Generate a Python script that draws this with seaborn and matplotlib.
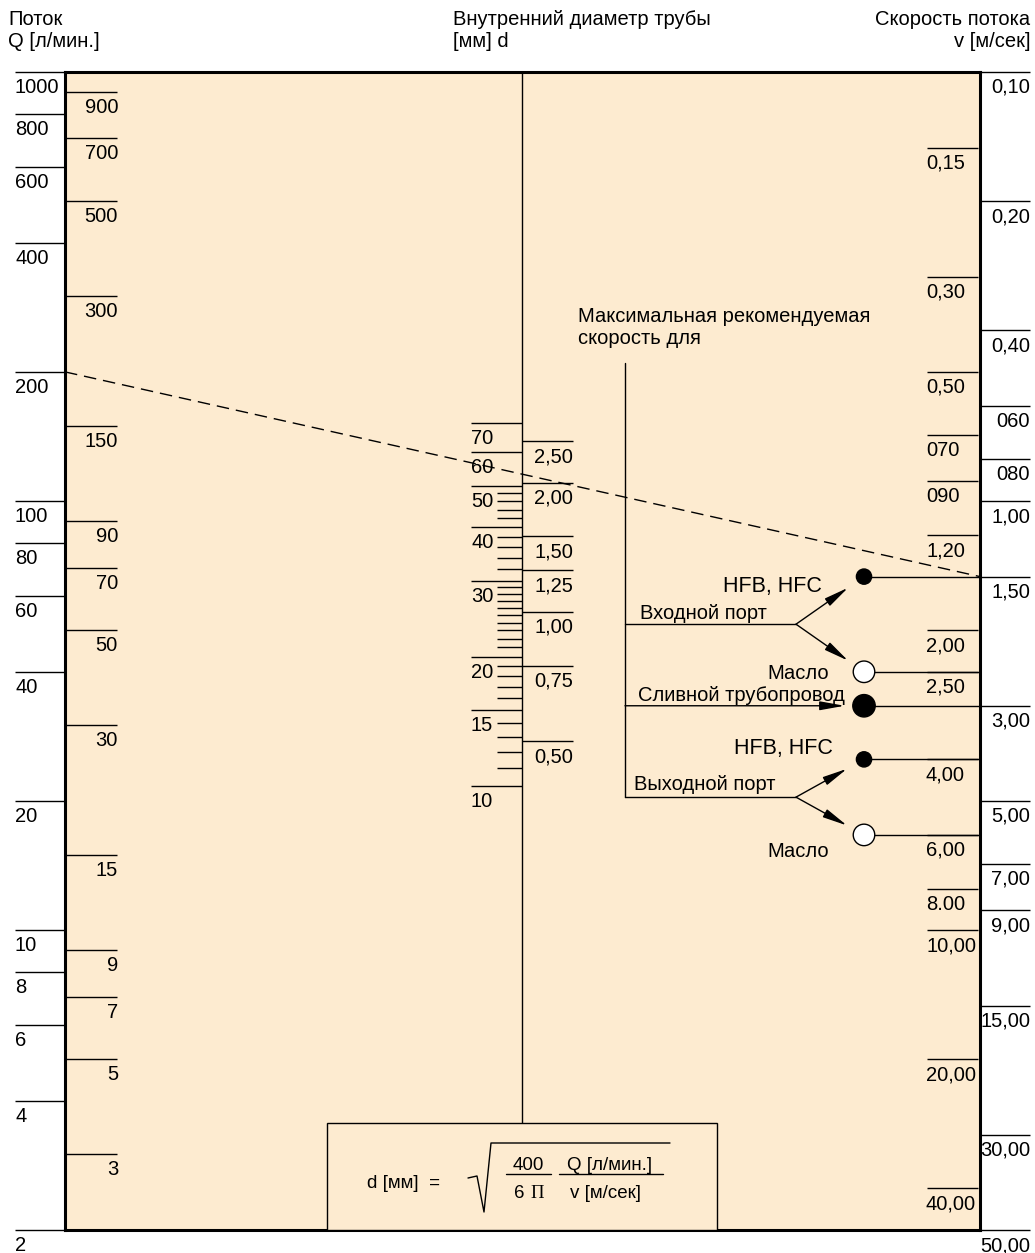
import numpy as np
import pandas as pd
import matplotlib
matplotlib.use('Agg')
import matplotlib.pyplot as plt
import matplotlib.transforms as mtransforms
from matplotlib.patches import Rectangle
import seaborn as sns

# flow Q [l/min] - left scale
q_major = [1000, 800, 600, 400, 200, 100, 80, 60, 40, 20, 10, 8, 6, 4, 2]
q_minor = [900, 700, 500, 300, 150, 90, 70, 50, 30, 15, 9, 7, 5, 3]

# flow velocity v [m/s] - right scale
v_major = [0.1, 0.2, 0.4, 0.6, 0.8, 1.0, 1.5, 3.0, 5.0, 7.0, 9.0, 15.0, 30.0, 50.0]
v_major_labels = ['0,10', '0,20', '0,40', '060', '080', '1,00', '1,50', '3,00',
                  '5,00', '7,00', '9,00', '15,00', '30,00', '50,00']
v_minor = [0.15, 0.3, 0.5, 0.7, 0.9, 1.2, 2.0, 2.5, 4.0, 6.0, 8.0, 10.0, 20.0, 40.0]
v_minor_labels = ['0,15', '0,30', '0,50', '070', '090', '1,20', '2,00', '2,50',
                  '4,00', '6,00', '8.00', '10,00', '20,00', '40,00']

# inner pipe diameter d [mm] - middle scale, plus inch sizes
d_major = [70, 60, 50, 40, 30, 20, 15, 10]
d_minor = [48, 46, 44, 42, 38, 36, 34, 32, 29, 28, 27, 26, 25, 24, 23, 22, 21,
           19, 18, 17, 16, 14, 13, 12, 11]
d_inch = [2.5, 2.0, 1.5, 1.25, 1.0, 0.75, 0.5]
d_inch_labels = ['2,50', '2,00', '1,50', '1,25', '1,00', '0,75', '0,50']

# max recommended velocities
rec_names = ['HFB, HFC', 'Масло', 'Сливной трубопровод', 'HFB, HFC', 'Масло']
rec_v = [1.5, 2.5, 3.0, 4.0, 6.0]
rec_kind = ['small', 'open', 'big', 'small', 'open']

# worked example (dashed line)
example_q = 200
example_v = 1.5

k = 400 / (6 * np.pi)   # d = sqrt(k * Q / v)

sns.set_theme(style='white')
plt.rcParams['font.family'] = ['Liberation Sans', 'DejaVu Sans']
plt.rcParams['text.color'] = 'black'

W, H = 1035, 1253
fig = plt.figure(figsize=(W / 100, H / 100), dpi=100)
L, R, T, B = 65, 980, 72, 1230
ax_q = fig.add_axes([L / W, 1 - B / H, (R - L) / W, (B - T) / H])
ax_q.set_facecolor('#FDEBD0')
ax_v = ax_q.twinx()
ax_d = ax_q.twinx()

ax_q.set_xlim(0, 1)
ax_q.set_yscale('log')
ax_q.set_ylim(min(q_major), max(q_major))
ax_v.set_yscale('log')
ax_v.set_ylim(max(v_major), min(v_major))
ax_d.set_yscale('log')
ax_d.set_ylim(np.sqrt(k * min(q_major) / max(v_major)), np.sqrt(k * max(q_major) / min(v_major)))

for a in (ax_q, ax_v, ax_d):
    a.tick_params(which='both', left=False, right=False, bottom=False, top=False,
                  labelleft=False, labelright=False, labelbottom=False)
    a.grid(False)
for s in ax_q.spines.values():
    s.set_linewidth(2.2)
    s.set_color('black')
for a in (ax_v, ax_d):
    for s in a.spines.values():
        s.set_visible(False)

FS = 14.5


def scale(ax, vals, labels, x0, x1, xt, ha):
    ax.hlines(vals, x0, x1, colors='black', lw=1.0, clip_on=False)
    if labels is None:
        return
    off = mtransforms.offset_copy(ax.transData, fig=fig, y=-6, units='dots')
    for v, lab in zip(vals, labels):
        ax.text(xt, v, lab, transform=off, ha=ha, va='top', fontsize=FS)


fx = lambda px: (px - L) / (R - L)
fy = lambda py: 1 - (py - T) / (B - T)

# left Q scale
scale(ax_q, q_major, [str(q) for q in q_major], fx(15), 0, fx(15), 'left')
scale(ax_q, q_minor, [str(q) for q in q_minor], 0, fx(117), fx(118), 'right')
# right v scale
scale(ax_v, v_major, v_major_labels, 1.0, fx(1030), fx(1030), 'right')
scale(ax_v, v_minor, v_minor_labels, fx(927), fx(978), fx(926), 'left')
# middle d scale
x_mid = fx(522)
ax_q.plot([x_mid, x_mid], [1, fy(1123)], transform=ax_q.transAxes, color='black', lw=1.0)
scale(ax_d, d_major, [str(d) for d in d_major], fx(471), x_mid, fx(471), 'left')
scale(ax_d, d_minor, None, fx(497), x_mid, None, None)
scale(ax_d, [25.4 * i for i in d_inch], d_inch_labels, x_mid, fx(573), fx(573), 'right')


def frac(ax, v):
    return ax_q.transAxes.inverted().transform(ax.transData.transform((0.5, v)))[1]


# example line
ax_q.plot([0, 1], [frac(ax_q, example_q), frac(ax_v, example_v)], transform=ax_q.transAxes,
          color='black', lw=1.0, ls=(0, (9, 5)), zorder=4)

# recommended velocity markers
cx = fx(864)
ax_v.hlines(rec_v, cx, 1.0, colors='black', lw=1.0)
markers = pd.DataFrame({'x': cx, 'v': rec_v, 'kind': rec_kind})
sns.scatterplot(data=markers, x='x', y='v', hue='kind', size='kind',
                palette={'small': 'black', 'big': 'black', 'open': 'white'},
                sizes={'small': 120, 'big': 260, 'open': 240},
                edgecolor='black', linewidth=1.0, legend=False, ax=ax_v, zorder=6)
ax_v.set_xlabel('')
ax_v.set_ylabel('')
ax_q.set_xlim(0, 1)
ax_v.set_ylim(max(v_major), min(v_major))

# branching tree
trunk_x = fx(625)
fork_x = fx(796)
y_in = frac(ax_v, np.sqrt(rec_v[0] * rec_v[1]))
y_drain = frac(ax_v, rec_v[2])
y_out = frac(ax_v, np.sqrt(rec_v[3] * rec_v[4]))
ax_q.plot([trunk_x, trunk_x], [fy(363), y_out], transform=ax_q.transAxes, color='black', lw=1.0)
for yb in (y_in, y_out):
    ax_q.plot([trunk_x, fork_x], [yb, yb], transform=ax_q.transAxes, color='black', lw=1.0)
arrow = dict(arrowstyle='-|>,head_length=1.0,head_width=0.18', color='black', lw=1.0,
             shrinkA=0, shrinkB=14, mutation_scale=15)
for (y0, i) in [(y_in, 0), (y_in, 1), (y_out, 3), (y_out, 4)]:
    ax_q.annotate('', xy=(cx, frac(ax_v, rec_v[i])), xytext=(fork_x, y0),
                  xycoords='axes fraction', arrowprops=arrow)
ax_q.annotate('', xy=(cx, y_drain), xytext=(trunk_x, y_drain),
              xycoords='axes fraction', arrowprops=arrow)


def label(x, y, s, dx, dy, ha, size=FS, va='baseline'):
    tr = mtransforms.offset_copy(ax_q.transAxes, fig=fig, x=dx, y=dy, units='dots')
    ax_q.text(x, y, s, transform=tr, ha=ha, va=va, fontsize=size)


label(fx(578), fy(307), 'Максимальная рекомендуемая\nскорость для', 0, 0, 'left', va='top')
label(trunk_x, y_in, 'Входной порт', 15, 5, 'left')
label(trunk_x, y_drain, rec_names[2], 13, 5, 'left')
label(trunk_x, y_out, 'Выходной порт', 9, 7, 'left')
label(cx, frac(ax_v, rec_v[0]), rec_names[0], -42, -15, 'right', 15.5)
label(cx, frac(ax_v, rec_v[1]), rec_names[1], -35, -7, 'right')
label(cx, frac(ax_v, rec_v[3]), rec_names[3], -31, 5, 'right', 15.5)
label(cx, frac(ax_v, rec_v[4]), rec_names[4], -35, -22, 'right')

# formula box
ax_q.add_patch(Rectangle((fx(327), 0), fx(717) - fx(327), fy(1123), transform=ax_q.transAxes,
                         facecolor='#FDEBD0', edgecolor='black', lw=1.0, zorder=3))
ft = dict(transform=ax_q.transAxes, fontsize=13.5, zorder=5, va='center')
ax_q.text(fx(367), fy(1183), 'd [мм]  =', ha='left', **ft)
ax_q.plot([fx(468), fx(477), fx(484), fx(491), fx(670)],
          [fy(1178), fy(1176), fy(1212), fy(1143), fy(1143)],
          transform=ax_q.transAxes, color='black', lw=1.0, zorder=5)
ax_q.text(fx(528), fy(1165), '400', ha='center', **ft)
ax_q.plot([fx(506), fx(551)], [fy(1174), fy(1174)], transform=ax_q.transAxes, color='black', lw=1.0, zorder=5)
ax_q.text(fx(519), fy(1193), '6', ha='center', **ft)
ax_q.text(fx(537), fy(1193), 'Π', ha='center', family='Liberation Serif', **ft)
ax_q.text(fx(610), fy(1165), 'Q [л/мин.]', ha='center', **ft)
ax_q.plot([fx(559), fx(663)], [fy(1174), fy(1174)], transform=ax_q.transAxes, color='black', lw=1.0, zorder=5)
ax_q.text(fx(605), fy(1193), 'v [м/сек]', ha='center', **ft)

# headers
fig.text(8 / W, 1 - 10 / H, 'Поток\nQ [л/мин.]', ha='left', va='top', fontsize=FS)
fig.text(453 / W, 1 - 10 / H, 'Внутренний диаметр трубы\n[мм] d', ha='left', va='top', fontsize=FS)
fig.text(1030 / W, 1 - 10 / H, 'Скорость потока\nv [м/сек]', ha='right', va='top',
         multialignment='right', fontsize=FS)

fig.savefig('out.png', dpi=100)
